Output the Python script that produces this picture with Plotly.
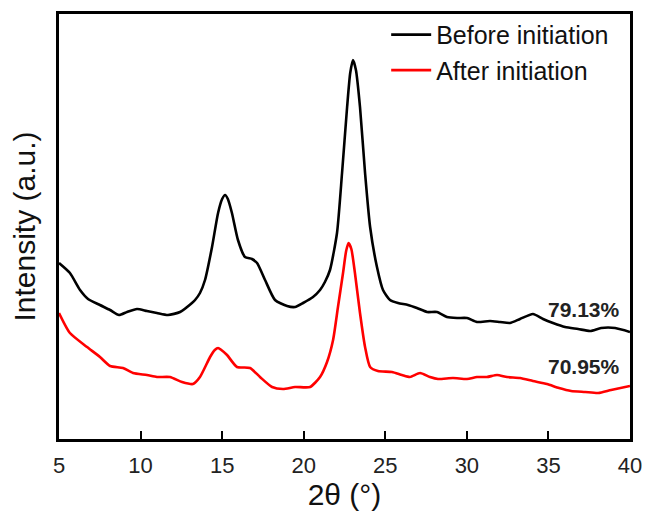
import plotly.graph_objects as go

# Before initiation (black)
before_x = [5.00, 5.67, 6.29, 6.78, 7.51, 8.13, 8.68, 9.17, 9.78, 10.39, 11.00, 11.68, 12.42,
            13.15, 13.34, 13.64, 13.95, 14.38, 14.75, 15.00, 15.18, 15.35, 15.60, 15.97, 16.40,
            16.83, 17.14, 17.63, 18.24, 18.98, 19.47, 19.96, 20.57, 21.00, 21.30, 21.61, 22.04,
            22.35, 22.66, 22.85, 23.02, 23.20, 23.45, 23.76, 24.07, 24.49, 24.86, 25.29, 25.78,
            26.39, 26.94, 27.56, 28.17, 28.78, 29.40, 30.01, 30.62, 31.42, 32.03, 32.64, 33.26,
            34.05, 34.67, 35.28, 36.02, 36.82, 37.56, 38.23, 39.09, 40.00]
before_y = [176, 166, 149, 140, 134, 129, 124, 127, 130, 128, 126, 124, 127,
            136, 139, 146, 159, 192, 226, 240, 244, 240, 226, 199, 182,
            180, 176, 159, 139, 133, 132, 136, 142, 149, 157, 169, 206,
            266, 332, 366, 379, 369, 332, 266, 212, 172, 149, 139, 136,
            134, 131, 127, 127, 122, 121, 121, 117, 118, 117, 116, 120,
            125, 120, 116, 112, 110, 108, 111, 111, 107]

# After initiation (red)
after_x = [5.00, 5.67, 6.72, 7.51, 8.13, 8.92, 9.54, 10.39, 11.00, 11.80, 12.54, 13.21, 13.64,
           14.26, 14.55, 14.75, 14.95, 15.30, 15.91, 16.71, 17.32, 18.06, 18.73, 19.47, 20.39,
           21.00, 21.43, 21.80, 22.10, 22.41, 22.60, 22.75, 22.92, 23.14, 23.45, 23.76, 24.07,
           24.55, 25.41, 26.02, 26.51, 27.13, 27.74, 28.23, 29.15, 30.01, 30.62, 31.23, 31.85,
           32.46, 33.26, 34.05, 34.91, 35.65, 36.39, 37.25, 38.05, 38.84, 40.00]
after_y = [126, 106, 92, 82, 73, 71, 66, 64, 62, 62, 57, 55, 62,
           82, 89, 91, 89, 84, 72, 71, 62, 52, 50, 52, 52,
           62, 77, 99, 132, 166, 188, 196, 190, 166, 126, 92, 72,
           68, 67, 64, 62, 66, 62, 60, 61, 60, 62, 62, 64,
           62, 61, 58, 55, 51, 48, 47, 46, 49, 53]

names = ["Before initiation", "After initiation"]
colors = ["#000000", "#ff0000"]
labels = ["79.13%", "70.95%"]
label_pos = [(37.2, 130), (37.15, 73)]
x_ticks = [5, 10, 15, 20, 25, 30, 35, 40]

fig = go.Figure()
for xs, ys, name, c in [(before_x, before_y, names[0], colors[0]), (after_x, after_y, names[1], colors[1])]:
    fig.add_trace(go.Scatter(x=xs, y=ys, mode="lines", name=name,
                             line=dict(color=c, width=2.6, shape="spline", smoothing=0.6)))

for (lx, ly), t in zip(label_pos, labels):
    fig.add_annotation(x=lx, y=ly, text="<b>" + t + "</b>", showarrow=False,
                       font=dict(family="Arial, Liberation Sans", size=21, color="#222222"))

fig.update_layout(
    width=646, height=517,
    margin=dict(l=59, r=16, t=14, b=78),
    paper_bgcolor="white", plot_bgcolor="white",
    font=dict(family="Arial, Liberation Sans", color="#222222"),
    showlegend=True,
    legend=dict(x=0.573, y=1.005, xanchor="left", yanchor="top", bgcolor="rgba(0,0,0,0)",
                font=dict(size=25, color="#111111"), tracegroupgap=0, itemwidth=40),
    xaxis=dict(range=[5, 40], tickvals=x_ticks, ticks="inside", ticklen=8, tickwidth=2,
               tickcolor="black", showline=True, linecolor="black", linewidth=2.5, mirror=True,
               showgrid=False, zeroline=False, tickfont=dict(size=22, color="#222222"),
               automargin=False, ticklabelstandoff=5,
               title=dict(text="2θ (°)", font=dict(size=30, color="#111111"), standoff=4)),
    yaxis=dict(range=[0, 425], showticklabels=False, ticks="", showline=True, linecolor="black",
               linewidth=2.5, mirror=True, showgrid=False, zeroline=False, automargin=False,
               title=dict(text="Intensity (a.u.)", font=dict(size=30, color="#111111"), standoff=12)),
)

fig.write_html("out.html")
